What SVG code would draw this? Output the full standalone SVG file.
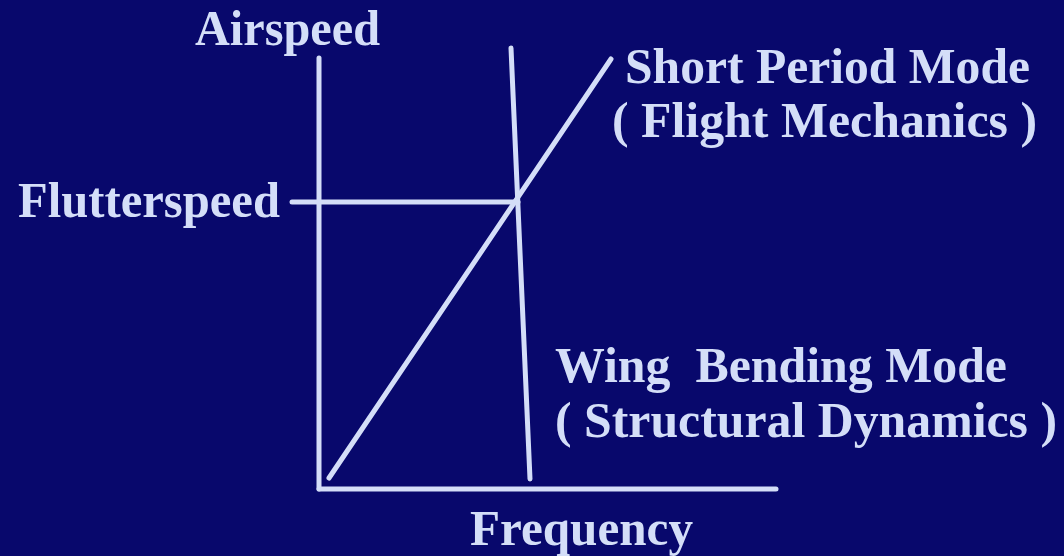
<svg xmlns="http://www.w3.org/2000/svg" width="1064" height="556" viewBox="0 0 1064 556">
<style>
.bg{fill:#08086c}
.ln{stroke:#d4def8;stroke-width:5;stroke-linecap:round;fill:none}
.t{font-family:"Liberation Serif","Times New Roman",serif;font-weight:bold;font-size:51px;fill:#d4def8;white-space:pre}
</style>
<rect class="bg" x="0" y="0" width="1064" height="556"/>
<g id="connectors">
<line class="ln" x1="319" y1="58" x2="319" y2="489"/>
<line class="ln" x1="319" y1="489" x2="776" y2="489"/>
<line class="ln" x1="511" y1="48" x2="530" y2="479"/>
<line class="ln" x1="329" y1="478" x2="611" y2="59"/>
<line class="ln" x1="292" y1="202" x2="518" y2="202"/>
</g>
<g id="airspeed"><text class="t" x="195" y="45" textLength="185" lengthAdjust="spacingAndGlyphs">Airspeed</text></g>
<g id="flutterspeed"><text class="t" x="18" y="217" textLength="262" lengthAdjust="spacingAndGlyphs">Flutterspeed</text></g>
<g id="frequency"><text class="t" x="470" y="545" textLength="223" lengthAdjust="spacingAndGlyphs">Frequency</text></g>
<g id="short-period">
<text class="t" x="625" y="83" textLength="405" lengthAdjust="spacingAndGlyphs">Short Period Mode</text>
<text class="t" x="612" y="137" textLength="425" lengthAdjust="spacingAndGlyphs">( Flight Mechanics )</text>
</g>
<g id="wing-bending">
<text class="t" x="555" y="382" textLength="452" lengthAdjust="spacingAndGlyphs" xml:space="preserve">Wing  Bending Mode</text>
<text class="t" x="555" y="437" textLength="502" lengthAdjust="spacingAndGlyphs">( Structural Dynamics )</text>
</g>
</svg>
